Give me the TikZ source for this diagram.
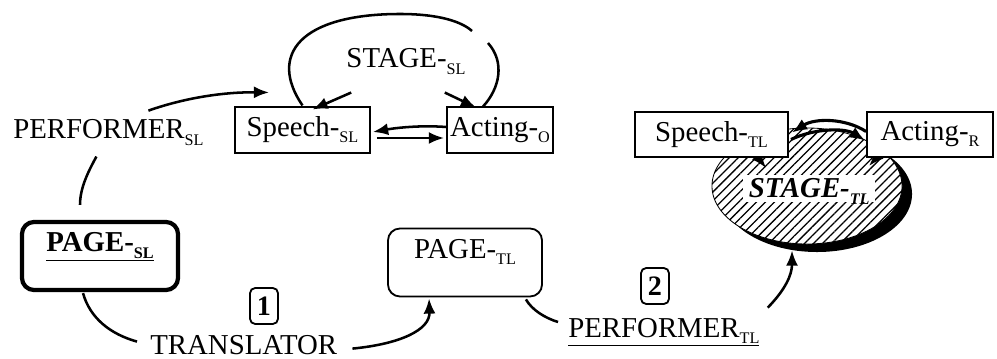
\documentclass[tikz,border=0pt]{standalone}
\usepackage{fontspec}
\setmainfont{Liberation Serif}
\usetikzlibrary{arrows.meta,patterns.meta,calc,shapes.geometric,shadows}
\newcommand\lsub[1]{\raisebox{-0.21em}[0pt][0pt]{\fontsize{11.5}{11.5}\selectfont #1}}
\newcommand\usub[1]{\raisebox{-0.21em}{\fontsize{11.5}{11.5}\selectfont #1}}
\begin{document}
\begin{tikzpicture}[x=0.025cm,y=-0.025cm, font=\fontsize{20.5}{24}\selectfont,
  box/.style={draw, line width=1.3pt, fill=white, inner sep=0pt, minimum height=1.13cm},
  pagebox/.style={draw, rounded corners=0.3cm, inner sep=0.15cm, text height=0.6cm, text depth=0.8cm},
  numbox/.style={draw, rounded corners=0.13cm, line width=1.3pt, inner sep=0pt, minimum width=0.7cm, minimum height=0.9cm, font=\fontsize{20}{20}\selectfont\bfseries},
  conn/.style={line width=1.8pt},
  arr/.style={conn, -{Latex[length=0.38cm,width=0.3cm]}},
  lbl/.style={inner sep=0pt}]
\useasboundingbox (0,0) rectangle (997,359);

% ---------- source-language stage ----------
\node[box, minimum width=3.375cm] (speechSL) at (302.5,130) {Speech-\lsub{SL}};
\node[box, minimum width=2.65cm] (actingO) at (500,130) {Acting-\lsub{O}};
\node[lbl, anchor=base] (stageSL) at (406,68) {STAGE-\lsub{SL}};

\draw[conn] ($(speechSL.north)+(0,-1)$) .. controls (268,55) and (300,14) .. (400,14)
   .. controls (440,14) and (462,22) .. (472,31);
\draw[conn] (488,43) .. controls (505,62) and (500,88) .. ($(actingO.north west)+(37,0)$);

\draw[arr] ($(stageSL.south west)+(5,24)$) -- ($(speechSL.north)+(10,3)$);
\draw[arr] ($(stageSL.south east)+(-21,24)$) -- ($(actingO.north west)+(30,1)$);

\draw[arr] ($(actingO.west)+(0,-3)$) .. controls (420,125) and (395,128) .. ($(speechSL.east)+(2,2)$);
\draw[arr] ($(speechSL.east)+(6,8)$) -- ($(actingO.west)+(-2,8)$);

\node[lbl, anchor=base west] (perfSL) at (13,139) {PERFORMER\lsub{SL}};
\draw[arr] ($(perfSL.north)+(40,-9)$) .. controls (190,96) and (230,92) .. ($(speechSL.north west)+(35,-14)$);

\node[pagebox, line width=3pt, minimum width=3.9cm, font=\fontsize{20.5}{24}\selectfont\bfseries] (pageSL) at (100,256) {\underline{PAGE-\usub{SL}}};
\draw[conn] ($(perfSL.south)+(-12,17)$) .. controls (88,172) and (80,188) .. ($(pageSL.north)+(-20,-15)$);

% ---------- translator ----------
\node[numbox] (n1) at (264,306) {1};
\node[lbl, anchor=base west] (transl) at (150,354) {TRANSLATOR};
\draw[conn] ($(pageSL.south)+(-17,1)$) .. controls (90,318) and (110,334) .. ($(transl.west)+(-13,-3)$);

\node[pagebox, line width=1.3pt, minimum width=3.85cm] (pageTL) at (465,262.5) {PAGE-\lsub{TL}};
\draw[arr] ($(transl.east)+(15,4)$) .. controls (400,344) and (430,330) .. ($(pageTL.south west)+(42,1)$);

% ---------- performer TL ----------
\node[numbox] (n2) at (655,286) {2};
\node[lbl, anchor=base west] (perfTL) at (568,337) {\underline{PERFORMER\usub{TL}}};
\draw[conn] ($(pageTL.south east)+(-17,2)$) .. controls (532,310) and (545,318) .. (558,322);

% ---------- target-language stage ----------
\node[ellipse, draw, line width=0.6pt, minimum width=4.75cm, minimum height=2.9cm, fill=white,
      drop shadow={shadow xshift=0.25cm, shadow yshift=-0.2cm, fill=black, opacity=1},
      postaction={pattern={Lines[angle=45,distance=4.5pt,line width=0.9pt]}}] (stageTL) at (807,186) {};
\node[lbl, anchor=base west, fill=white, inner xsep=4pt, inner ysep=3pt, font=\fontsize{20.5}{24}\selectfont\bfseries\itshape] (stageTLtxt) at (743,198) {STAGE-\lsub{TL}};

\draw[arr] ($(perfTL.north east)+(8,-10)$) .. controls (785,290) and (792,275) .. ($(stageTL.south)+(-15,6)$);

\coordinate (sEnd) at (788,157);
\draw[arr] ($(sEnd)+(-38,-10)$) -- ($(sEnd)+(-22,11)$);
\draw[arr] (886,147) -- (869,166);

\node[box, minimum width=3.825cm] (speechTL) at (711.5,134.5) {Speech-\lsub{TL}};
\node[box, minimum width=3.15cm] (actingR) at (930,134.5) {Acting-\lsub{R}};

\draw[arr, line width=2.2pt] ($(actingR.west)+(0,-3)$) .. controls (845,118) and (815,118) .. ($(speechTL.east)+(3,-2)$);
\draw[arr, line width=2.2pt] ($(speechTL.east)+(2,5)$) .. controls (815,128) and (845,128) .. ($(actingR.west)+(-1,6)$);
\end{tikzpicture}
\end{document}
